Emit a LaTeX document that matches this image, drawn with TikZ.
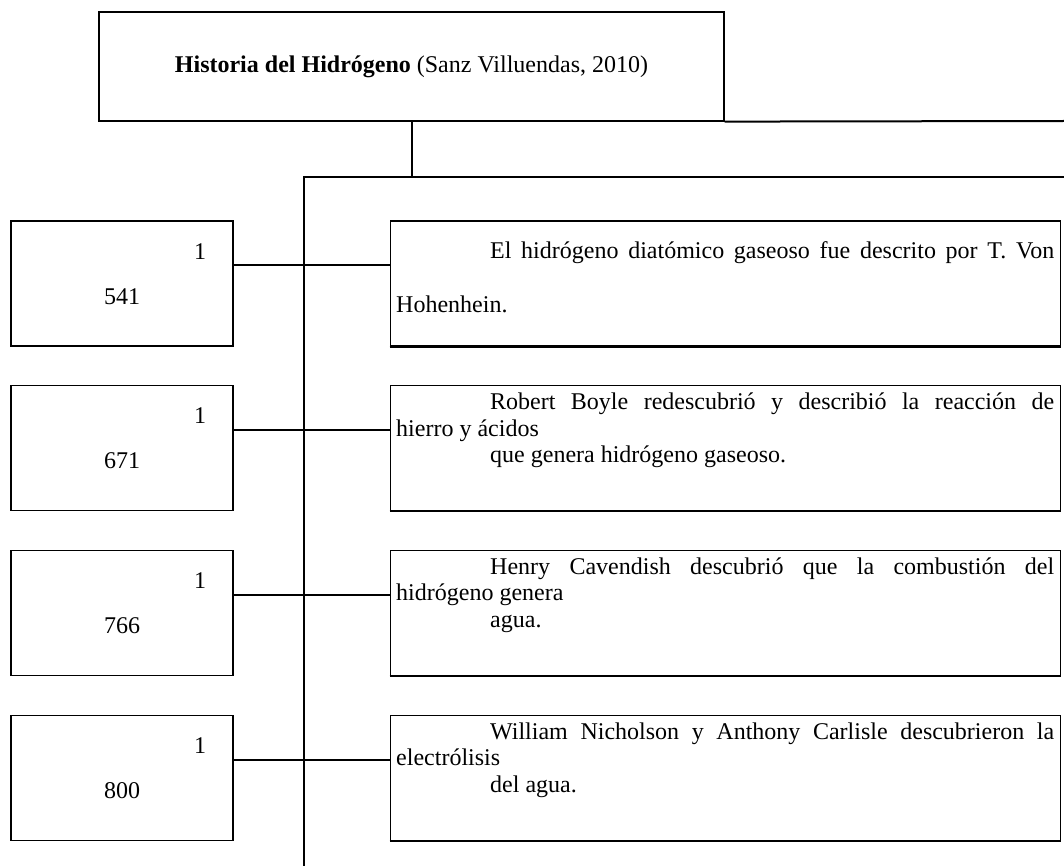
\documentclass[tikz,border=0pt]{standalone}
\usepackage{fontspec}
\setmainfont{Liberation Serif}
\usetikzlibrary{positioning}
\tikzstyle{titleblock} = [draw, line width=0.6pt, minimum width=312.5pt, minimum height=54.5pt, inner sep=0pt]
\tikzstyle{yearblock} = [draw, line width=0.6pt, minimum width=111pt, minimum height=62.5pt, inner sep=0pt]
\tikzstyle{eventblock} = [draw, line width=0.6pt, minimum width=335pt, minimum height=62.5pt, inner xsep=3pt, inner ysep=0pt]
\tikzstyle{conn} = [line width=1pt]
\newcommand{\yeartext}[2]{\parbox[c][62.5pt][t]{111pt}{\rule{0pt}{19pt}\makebox[111pt][r]{#1\hspace*{13.5pt}}\\[9.25pt]\makebox[111pt][c]{#2}}}
\newcommand{\jline}[1]{\hspace*{47pt}\makebox[282pt][s]{#1}}
\newcommand{\indline}{\hspace*{47pt}}

\begin{document}
\begin{tikzpicture}[x=0.5pt, y=-0.5pt, font=\fontsize{12}{13.25}\selectfont]
        \useasboundingbox (0,0) rectangle (1064,866);

        % Title
        \node[titleblock] (title) at (411.5,66.5) {\textbf{Historia del Hidrógeno} (Sanz Villuendas, 2010)};

        % Years
        \node[yearblock] (y1) at (122,283.5) {\yeartext{1}{541}};
        \node[yearblock, below=19.25pt of y1] (y2) {\yeartext{1}{671}};
        \node[yearblock, below=19.25pt of y2] (y3) {\yeartext{1}{766}};
        \node[yearblock, below=19.25pt of y3] (y4) {\yeartext{1}{800}};

        % Events
        \node[eventblock, right=78pt of y1] (e1) {\parbox[c][62.5pt][t]{329pt}{\rule{0pt}{18.5pt}\jline{El hidrógeno diatómico gaseoso fue descrito por T. Von}\\[13.75pt]Hohenhein.}};
        \node[eventblock, right=78pt of y2] (e2) {\parbox[c][62.5pt][t]{329pt}{\rule{0pt}{12pt}\jline{Robert Boyle redescubrió y describió la reacción de}\\hierro y ácidos\\\indline que genera hidrógeno gaseoso.}};
        \node[eventblock, right=78pt of y3] (e3) {\parbox[c][62.5pt][t]{329pt}{\rule{0pt}{12pt}\jline{Henry Cavendish descubrió que la combustión del}\\hidrógeno genera\\\indline agua.}};
        \node[eventblock, right=78pt of y4] (e4) {\parbox[c][62.5pt][t]{329pt}{\rule{0pt}{12pt}\jline{William Nicholson y Anthony Carlisle descubrieron la}\\electrólisis\\\indline del agua.}};

        % Lines
        \coordinate (split) at (411.5,177);
        \coordinate (trunk) at (304,177);
        \coordinate (trunkend) at (304,866);
        \coordinate (rim) at (1064,177);
        \coordinate (toprim) at (1064,121);
        \draw[conn] (title.south east) -- (toprim);
        \draw[conn] (title.south) -- (split);
        \draw[conn] (rim) -- (trunk) -- (trunkend);
        \foreach \i in {1,...,4} {
            \draw[conn] ([yshift=-22.5pt]y\i.north east) -- ([yshift=-22.5pt]e\i.north west);
            \draw[conn] (e\i.south west) -- (e\i.south east);
        }
    \end{tikzpicture}
\end{document}
